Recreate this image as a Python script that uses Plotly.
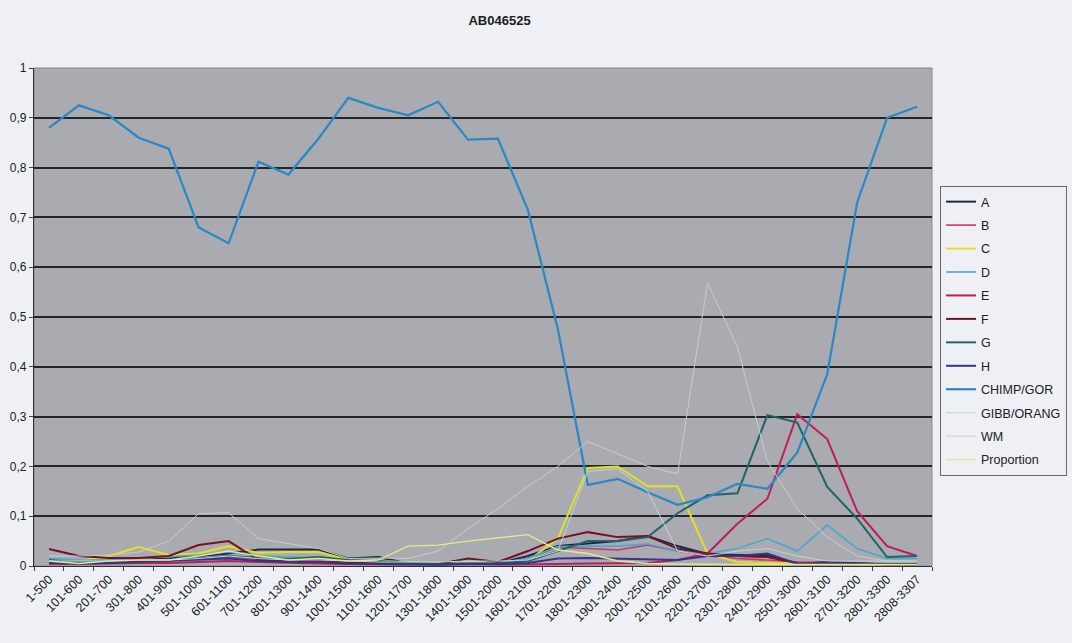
import plotly.graph_objects as go

categories = ["1-500", "101-600", "201-700", "301-800", "401-900", "501-1000", "601-1100",
              "701-1200", "801-1300", "901-1400", "1001-1500", "1101-1600", "1201-1700",
              "1301-1800", "1401-1900", "1501-2000", "1601-2100", "1701-2200", "1801-2300",
              "1901-2400", "2001-2500", "2101-2600", "2201-2700", "2301-2800", "2401-2900",
              "2501-3000", "2601-3100", "2701-3200", "2801-3300", "2808-3307"]

A = [0.012, 0.008, 0.010, 0.012, 0.015, 0.020, 0.025, 0.033, 0.033, 0.033, 0.015, 0.018, 0.005, 0.003, 0.005,
     0.005, 0.020, 0.040, 0.045, 0.050, 0.060, 0.040, 0.024, 0.022, 0.022, 0.005, 0.008, 0.005, 0.003, 0.003]
B = [0.005, 0.004, 0.006, 0.008, 0.010, 0.015, 0.018, 0.012, 0.010, 0.008, 0.006, 0.005, 0.004, 0.003, 0.005,
     0.004, 0.015, 0.038, 0.035, 0.032, 0.042, 0.030, 0.020, 0.015, 0.012, 0.008, 0.006, 0.004, 0.003, 0.003]
C = [0.008, 0.010, 0.020, 0.038, 0.022, 0.025, 0.040, 0.026, 0.028, 0.028, 0.012, 0.010, 0.008, 0.006, 0.008,
     0.008, 0.010, 0.055, 0.197, 0.200, 0.160, 0.160, 0.025, 0.008, 0.006, 0.005, 0.005, 0.004, 0.003, 0.003]
D = [0.015, 0.012, 0.012, 0.015, 0.018, 0.022, 0.028, 0.020, 0.018, 0.016, 0.010, 0.008, 0.006, 0.005, 0.006,
     0.006, 0.015, 0.039, 0.040, 0.040, 0.044, 0.030, 0.025, 0.035, 0.055, 0.030, 0.082, 0.035, 0.015, 0.015]
E = [0.004, 0.004, 0.005, 0.006, 0.006, 0.008, 0.010, 0.008, 0.006, 0.005, 0.004, 0.003, 0.003, 0.003, 0.004,
     0.003, 0.003, 0.004, 0.005, 0.005, 0.006, 0.012, 0.025, 0.085, 0.135, 0.305, 0.255, 0.110, 0.040, 0.020]
F = [0.034, 0.020, 0.016, 0.016, 0.020, 0.042, 0.050, 0.012, 0.010, 0.012, 0.008, 0.006, 0.004, 0.004, 0.015,
     0.008, 0.030, 0.055, 0.068, 0.058, 0.060, 0.035, 0.025, 0.020, 0.018, 0.006, 0.006, 0.005, 0.004, 0.004]
G = [0.010, 0.008, 0.008, 0.010, 0.012, 0.015, 0.020, 0.016, 0.014, 0.018, 0.012, 0.010, 0.006, 0.004, 0.005,
     0.005, 0.010, 0.030, 0.050, 0.050, 0.058, 0.106, 0.142, 0.146, 0.303, 0.288, 0.159, 0.095, 0.018, 0.020]
H = [0.006, 0.005, 0.006, 0.008, 0.010, 0.012, 0.015, 0.010, 0.008, 0.008, 0.005, 0.004, 0.003, 0.003, 0.004,
     0.004, 0.006, 0.015, 0.016, 0.015, 0.014, 0.012, 0.020, 0.020, 0.025, 0.004, 0.005, 0.004, 0.003, 0.003]
CHIMP_GOR = [0.880, 0.925, 0.905, 0.860, 0.838, 0.680, 0.648, 0.812, 0.786, 0.858, 0.940, 0.920, 0.905, 0.932, 0.856,
             0.858, 0.715, 0.476, 0.163, 0.175, 0.148, 0.123, 0.138, 0.165, 0.155, 0.228, 0.385, 0.730, 0.900, 0.922]
GIBB_ORANG = [0.010, 0.010, 0.010, 0.012, 0.012, 0.015, 0.020, 0.015, 0.012, 0.012, 0.010, 0.008, 0.008, 0.008, 0.010,
              0.010, 0.012, 0.030, 0.190, 0.195, 0.150, 0.030, 0.020, 0.030, 0.035, 0.020, 0.010, 0.010, 0.010, 0.010]
WM = [0.020, 0.020, 0.022, 0.028, 0.050, 0.105, 0.107, 0.055, 0.045, 0.035, 0.015, 0.016, 0.015, 0.030, 0.075,
      0.115, 0.160, 0.200, 0.250, 0.225, 0.200, 0.185, 0.568, 0.440, 0.210, 0.115, 0.058, 0.020, 0.010, 0.010]
Proportion = [0.010, 0.005, 0.010, 0.012, 0.012, 0.020, 0.030, 0.020, 0.012, 0.015, 0.010, 0.012, 0.040, 0.042, 0.050,
              0.057, 0.063, 0.032, 0.025, 0.010, 0.005, 0.004, 0.003, 0.003, 0.003, 0.003, 0.003, 0.003, 0.003, 0.003]

series_names = ["A", "B", "C", "D", "E", "F", "G", "H", "CHIMP/GOR", "GIBB/ORANG", "WM", "Proportion"]
series_values = [A, B, C, D, E, F, G, H, CHIMP_GOR, GIBB_ORANG, WM, Proportion]
series_colors = ["#1c2848", "#d8305c", "#e4e020", "#4aa6d2", "#c01c5c", "#761024", "#1f6466", "#343490",
                 "#2a88c4", "#b9d6da", "#c6cccc", "#e2ea8c"]
series_widths = [2, 1.6, 2, 1.6, 2, 2, 2, 2, 2.2, 1, 1, 1.4]

y_ticks = [0, 0.1, 0.2, 0.3, 0.4, 0.5, 0.6, 0.7, 0.8, 0.9, 1]
y_tick_text = ["0", "0,1", "0,2", "0,3", "0,4", "0,5", "0,6", "0,7", "0,8", "0,9", "1"]

fig = go.Figure()
for i, (name, vals, col, w) in enumerate(zip(series_names, series_values, series_colors, series_widths)):
    fig.add_trace(go.Scatter(x=categories, y=vals, mode="lines", name=name,
                             line=dict(color=col, width=w), legendgroup=name))

fig.update_layout(
    width=1072, height=643,
    paper_bgcolor="#eef0f5",
    plot_bgcolor="#a9abb0",
    margin=dict(l=34, r=140, t=68, b=77, autoexpand=False),
    title=dict(text="<b>AB046525</b>", x=0.466, xanchor="center", y=0.975, yanchor="top",
               font=dict(family="Liberation Sans, Arial", size=13, color="#202020")),
    font=dict(family="Liberation Sans, Arial", size=12, color="#202020"),
    legend=dict(xref="container", yref="container", x=0.8769, xanchor="left", y=0.7107, yanchor="top",
                bgcolor="#eef0f6", bordercolor="#6a6a6a", borderwidth=1,
                font=dict(size=12.5, color="#202020"), traceorder="grouped", tracegroupgap=4.2,
                itemwidth=30),
    showlegend=True,
)
fig.update_xaxes(type="category", range=[-0.5, 29.5], tickangle=-45, tickson="boundaries",
                 ticks="outside", ticklen=4, tickcolor="#404040", showline=True, linecolor="#303030",
                 linewidth=1.2, showgrid=False, tickfont=dict(size=12.5, color="#202020"), automargin=False)
fig.update_yaxes(range=[0, 1], tickvals=y_ticks, ticktext=y_tick_text, ticks="outside", ticklen=4,
                 tickcolor="#404040", showline=True, linecolor="#303030", linewidth=1.2,
                 showgrid=True, gridcolor="#252525", gridwidth=1.6, zeroline=False,
                 tickfont=dict(size=12, color="#202020"), automargin=False)
fig.add_shape(type="rect", xref="paper", yref="paper", x0=0, x1=1, y0=0, y1=1,
              line=dict(color="#8a8a8a", width=1), layer="below")

fig.write_html("out.html", config={"displayModeBar": False},
               post_script="document.body.style.margin='0';document.body.style.background='#eef0f5';")
